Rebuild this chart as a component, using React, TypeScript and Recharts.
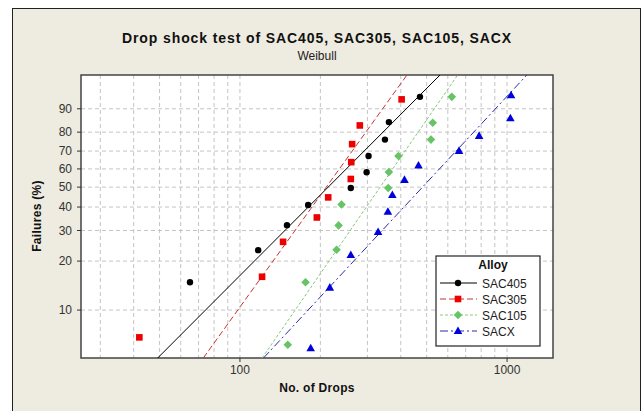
import {
  ComposedChart,
  Scatter,
  Line,
  XAxis,
  YAxis,
  CartesianGrid,
  ReferenceArea,
} from "recharts";

// drops / failure %
const sac405Drops = [65, 117, 150, 180, 260, 298, 303, 349, 361, 472];
const sac405Pct = [14.9, 23.2, 32.1, 41.0, 49.5, 58.1, 67.3, 76.2, 84.7, 93.7];

const sac305Drops = [42, 121, 145, 194, 214, 260, 261, 263, 281, 403];
const sac305Pct = [6.7, 16.1, 25.9, 35.3, 44.7, 54.4, 63.8, 73.8, 83.2, 93.0];

const sac105Drops = [151, 176, 230, 234, 240, 359, 361, 392, 519, 527, 621];
const sac105Pct = [6.0, 14.9, 23.3, 32.0, 41.2, 49.5, 58.2, 67.3, 76.2, 84.4, 93.7];

const sacxDrops = [184, 217, 260, 329, 358, 372, 413, 466, 661, 786, 1029, 1035];
const sacxPct = [5.7, 13.8, 21.7, 29.4, 37.8, 45.9, 53.9, 61.9, 70.1, 78.1, 86.3, 94.1];

// fitted lines: drops where each line meets the bottom / top of the plot
const fitPct = [4.93, 97.9];
const sac405Fit = [49.2, 561];
const sac305Fit = [72.9, 422];
const sac105Fit = [121, 653];
const sacxFit = [122.5, 1186];

const xDomainDrops = [25.4, 1486];
const xTickLabels = [100, 1000];
const xGridDrops = [30, 40, 50, 60, 70, 80, 90, 100, 200, 300, 400, 500, 600, 700, 800, 900, 1000];
const yTickLabels = [10, 20, 30, 40, 50, 60, 70, 80, 90];

const weib = (pct: number) => Math.log(-Math.log(1 - pct / 100));
const lg = (v: number) => Math.log10(v);

const pts = (drops: number[], pct: number[]) =>
  drops.map((d, i) => ({ x: lg(d), y: weib(pct[i]) }));

const series = [
  { name: "SAC405", data: pts(sac405Drops, sac405Pct), fit: pts(sac405Fit, fitPct), color: "#000000", line: "#000000", dash: undefined, kind: "circle" },
  { name: "SAC305", data: pts(sac305Drops, sac305Pct), fit: pts(sac305Fit, fitPct), color: "#EE0000", line: "#C83232", dash: "6 3", kind: "square" },
  { name: "SAC105", data: pts(sac105Drops, sac105Pct), fit: pts(sac105Fit, fitPct), color: "#66C466", line: "#88C878", dash: "3 2", kind: "diamond" },
  { name: "SACX", data: pts(sacxDrops, sacxPct), fit: pts(sacxFit, fitPct), color: "#0000DD", line: "#2A2AAA", dash: "8 3 2 3", kind: "triangle" },
];

const xDom = [lg(xDomainDrops[0]), lg(xDomainDrops[1])];
const yDom = [weib(fitPct[0]), weib(fitPct[1])];

const FONT = "'Liberation Sans', Arial, sans-serif";

function Marker({ kind, cx, cy, color }: any) {
  if (cx == null || cy == null) return null;
  if (kind === "circle") return <circle cx={cx} cy={cy} r={3.2} fill={color} />;
  if (kind === "square") return <rect x={cx - 3.3} y={cy - 3.3} width={6.6} height={6.6} fill={color} />;
  if (kind === "diamond")
    return <polygon points={`${cx},${cy - 4.3} ${cx + 4.3},${cy} ${cx},${cy + 4.3} ${cx - 4.3},${cy}`} fill={color} />;
  return <polygon points={`${cx},${cy - 4.6} ${cx + 4.3},${cy + 3} ${cx - 4.3},${cy + 3}`} fill={color} />;
}

const fmtY = (w: number) => String(Math.round(100 * (1 - Math.exp(-Math.exp(w)))));
const fmtX = (v: number) => String(Math.round(Math.pow(10, v)));

export default function App() {
  return (
    <div style={{ position: "absolute", left: 0, top: 0, width: 643, height: 411, background: "#fff", overflow: "hidden", fontFamily: FONT }}>
      <div
        style={{
          position: "absolute",
          left: 12,
          top: 8,
          width: 629,
          height: 420,
          boxSizing: "border-box",
          border: "1.5px solid #222",
          background: "#EEEBE0",
        }}
      />
      <div style={{ position: "absolute", left: 0, top: 0 }}>
        <ComposedChart width={643} height={411} margin={{ top: 75, right: 90, bottom: 23, left: 41 }}>
          <CartesianGrid
            fill="#ffffff"
            stroke="#C4C4C4"
            strokeDasharray="4 3"
            verticalValues={xGridDrops.map(lg)}
            horizontalValues={yTickLabels.map(weib)}
          />
          <XAxis
            type="number"
            dataKey="x"
            domain={xDom}
            ticks={xTickLabels.map(lg)}
            tickFormatter={fmtX}
            interval={0}
            allowDataOverflow
            height={30}
            axisLine={false}
            tickSize={4}
            tickMargin={3}
            tickLine={{ stroke: "#333" }}
            tick={{ fill: "#333", fontSize: 12, fontFamily: FONT }}
          />
          <YAxis
            type="number"
            dataKey="y"
            domain={yDom}
            ticks={yTickLabels.map(weib)}
            tickFormatter={fmtY}
            interval={0}
            allowDataOverflow
            width={40}
            axisLine={false}
            tickSize={4}
            tickMargin={5}
            tickLine={{ stroke: "#333" }}
            tick={{ fill: "#333", fontSize: 12, fontFamily: FONT }}
          />
          {series.map((s) => (
            <Line
              key={s.name + "-fit"}
              data={s.fit}
              dataKey="y"
              type="linear"
              stroke={s.line}
              strokeWidth={1}
              strokeDasharray={s.dash}
              dot={false}
              activeDot={false}
              legendType="none"
              isAnimationActive={false}
            />
          ))}
          {series.map((s) => (
            <Scatter
              key={s.name}
              name={s.name}
              data={s.data}
              isAnimationActive={false}
              shape={(p: any) => <Marker kind={s.kind} cx={p.cx} cy={p.cy} color={s.color} />}
            />
          ))}
          <ReferenceArea
            x1={xDom[0]}
            x2={xDom[1]}
            y1={yDom[0]}
            y2={yDom[1]}
            fill="none"
            stroke="#444"
            strokeWidth={1.5}
            ifOverflow="visible"
          />
        </ComposedChart>
      </div>
      <svg width={643} height={411} style={{ position: "absolute", left: 0, top: 0, pointerEvents: "none" }}>
        <text x={317} y={43} textAnchor="middle" fontSize={14} fontWeight="bold" fill="#111" fontFamily={FONT} letterSpacing={0.9}>
          Drop shock test of SAC405, SAC305, SAC105, SACX
        </text>
        <text x={317} y={60} textAnchor="middle" fontSize={12} fill="#222" fontFamily={FONT}>
          Weibull
        </text>
        <text x={317} y={392} textAnchor="middle" fontSize={12} fontWeight="bold" fill="#111" fontFamily={FONT} letterSpacing={0.3}>
          No. of Drops
        </text>
        <text
          x={0}
          y={0}
          transform="translate(41,216) rotate(-90)"
          textAnchor="middle"
          fontSize={12}
          fontWeight="bold"
          fill="#111"
          fontFamily={FONT}
          letterSpacing={0.3}
        >
          Failures (%)
        </text>
        <g transform="translate(436,256)">
          <rect x={0} y={0} width={104} height={90} fill="#fff" stroke="#222" strokeWidth={1.2} />
          <text x={57} y={13} textAnchor="middle" fontSize={12} fontWeight="bold" fill="#111" fontFamily={FONT}>
            Alloy
          </text>
          {series.map((s, i) => (
            <g key={s.name} transform={`translate(0,${27 + i * 16})`}>
              <line x1={4} x2={41} y1={0} y2={0} stroke={s.line} strokeWidth={1} strokeDasharray={s.dash} />
              <Marker kind={s.kind} cx={22} cy={0} color={s.color} />
              <text x={46} y={4.5} fontSize={12} fill="#222" fontFamily={FONT}>
                {s.name}
              </text>
            </g>
          ))}
        </g>
      </svg>
    </div>
  );
}
